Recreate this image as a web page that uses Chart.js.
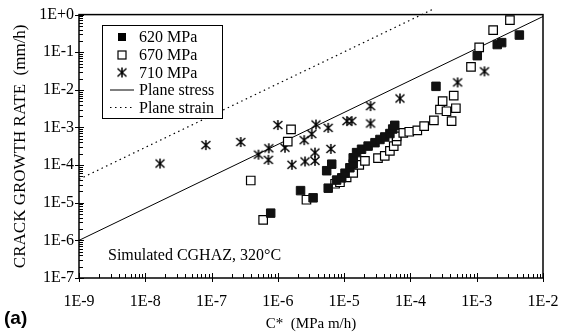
<!DOCTYPE html>
<html>
<head>
<meta charset="utf-8">
<script src="https://cdn.jsdelivr.net/npm/chart.js@4.4.0/dist/chart.umd.min.js"></script>
<style>
  html, body { margin: 0; padding: 0; background: #fff; }
</style>
</head>
<body>
<canvas id="crack-chart" width="575" height="336"></canvas>
<script>
// C* (MPa m/h) vs crack growth rate (mm/h)
var c620 = [7.8e-7, 2.2e-6, 3.4e-6, 5.75e-6, 5.45e-6, 6.5e-6, 7.7e-6, 9.2e-6, 1.03e-5, 1.22e-5, 1.37e-5, 1.37e-5,
            1.54e-5, 1.83e-5, 2.3e-5, 2.92e-5, 3.47e-5, 4.1e-5, 4.9e-5, 5.4e-5, 5.8e-5,
            2.43e-4, 1.02e-3, 2.04e-3, 2.38e-3, 4.4e-3];
var rate620 = [5.3e-6, 2.1e-5, 1.35e-5, 2.44e-5, 7.1e-5, 1.06e-4, 4.0e-5, 4.6e-5, 6.1e-5, 8.5e-5, 1.08e-4, 1.56e-4,
               2.15e-4, 2.64e-4, 3.2e-4, 3.95e-4, 4.8e-4, 5.6e-4, 6.9e-4, 9.1e-4, 1.14e-3,
               1.24e-2, 8.1e-2, 0.16, 0.18, 0.286];

var c670 = [6.0e-7, 2.7e-6, 3.9e-7, 1.41e-6, 1.58e-6, 7.3e-6, 8.65e-6, 1.09e-5, 1.37e-5, 1.69e-5, 2.06e-5, 3.24e-5,
            4.1e-5, 4.9e-5, 5.6e-5, 6.2e-5, 6.2e-5, 7.8e-5, 9.6e-5, 1.27e-4, 1.61e-4, 2.26e-4, 2.79e-4,
            3.06e-4, 3.5e-4, 4.18e-4, 4.5e-4, 4.85e-4, 8.2e-4, 1.09e-3, 1.77e-3, 3.17e-3];
var rate670 = [3.5e-6, 1.2e-5, 3.9e-5, 4.2e-4, 8.9e-4, 3.2e-5, 3.5e-5, 4.7e-5, 6.2e-5, 1.02e-4, 1.3e-4, 1.53e-4,
               1.76e-4, 2.4e-4, 3.2e-4, 4.4e-4, 5.8e-4, 7.2e-4, 7.7e-4, 8.4e-4, 1.09e-3, 1.54e-3, 3.0e-3,
               5.0e-3, 2.7e-3, 1.48e-3, 7.0e-3, 3.25e-3, 4.1e-2, 0.135, 0.387, 0.71];

var c710 = [1.67e-8, 8.2e-8, 2.75e-7, 1.0e-6, 5.1e-7, 7.3e-7, 7.2e-7, 1.28e-6, 1.63e-6, 2.57e-6, 3.63e-6, 3.63e-6,
            2.5e-6, 3.24e-6, 3.76e-6, 5.75e-6, 6.3e-6, 1.1e-5, 1.3e-5, 2.5e-5, 2.5e-5, 6.95e-5, 5.15e-4, 1.31e-3];
var rate710 = [1.1e-4, 3.4e-4, 4.1e-4, 1.16e-3, 1.9e-4, 2.8e-4, 1.38e-4, 2.9e-4, 1.02e-4, 1.25e-4, 2.15e-4, 1.3e-4,
               4.6e-4, 6.7e-4, 1.2e-3, 9.8e-4, 2.7e-4, 1.48e-3, 1.48e-3, 3.7e-3, 1.28e-3, 5.9e-3, 1.58e-2, 3.1e-2];

// reference lines
var stressC = [1e-9, 1e-2];
var stressRate = [1e-6, 0.89];
var strainC = [1e-9, 2.2e-4];
var strainRate = [4.2e-5, 1.4];

var xTicks = [1e-9, 1e-8, 1e-7, 1e-6, 1e-5, 1e-4, 1e-3, 1e-2];
var yTicks = [1e-7, 1e-6, 1e-5, 1e-4, 1e-3, 1e-2, 1e-1, 1];

var serif = '"Liberation Serif", "Times New Roman", serif';

function pts(xs, ys) {
    return xs.map(function (v, i) { return { x: v, y: ys[i] }; });
}

function fmtPow(v) {
    var e = Math.round(Math.log10(v));
    return '1E' + (e >= 0 ? '+' : '') + e;
}

// asterisk marker
function makeStar() {
    var c = document.createElement('canvas');
    c.width = 12; c.height = 12;
    var g = c.getContext('2d');
    g.strokeStyle = '#000';
    g.lineWidth = 1.5;
    g.beginPath();
    g.moveTo(6, 1); g.lineTo(6, 11);
    g.moveTo(1.5, 2); g.lineTo(10.5, 10);
    g.moveTo(10.5, 2); g.lineTo(1.5, 10);
    g.stroke();
    return c;
}
var star = makeStar();

var decor = {
    id: 'decor',
    afterDraw: function (chart) {
        var ctx = chart.ctx, a = chart.chartArea;
        var xs = chart.scales.x, ys = chart.scales.y;
        ctx.save();
        ctx.strokeStyle = '#000';
        ctx.lineWidth = 1.5;
        ctx.strokeRect(a.left, a.top, a.right - a.left, a.bottom - a.top);

        // axis ticks
        ctx.lineWidth = 1;
        ctx.beginPath();
        for (var e = -9; e <= -2; e++) {
            var px = Math.round(xs.getPixelForValue(Math.pow(10, e))) + 0.5;
            ctx.moveTo(px, a.bottom + 4); ctx.lineTo(px, a.bottom - 5);
            if (e < -2) {
                for (var m = 2; m <= 9; m++) {
                    var mx = Math.round(xs.getPixelForValue(m * Math.pow(10, e))) + 0.5;
                    ctx.moveTo(mx, a.bottom); ctx.lineTo(mx, a.bottom - 4);
                }
            }
        }
        for (var k = -7; k <= 0; k++) {
            var py = Math.round(ys.getPixelForValue(Math.pow(10, k))) + 0.5;
            ctx.moveTo(a.left - 4, py); ctx.lineTo(a.left + 5, py);
            if (k < 0) {
                for (var n = 2; n <= 9; n++) {
                    var my = Math.round(ys.getPixelForValue(n * Math.pow(10, k))) + 0.5;
                    ctx.moveTo(a.left, my); ctx.lineTo(a.left + 4, my);
                }
            }
        }
        ctx.stroke();

        // legend box
        var lx = 102, ly = 25, lw = 120, lh = 93;
        ctx.fillStyle = '#fff';
        ctx.fillRect(lx, ly, lw, lh);
        ctx.strokeRect(lx + 0.5, ly + 0.5, lw, lh);
        var rows = [37, 55, 72.5, 90, 107.5];
        var ds = chart.data.datasets;
        ctx.font = '16px ' + serif;
        ctx.textBaseline = 'middle';
        ctx.textAlign = 'left';
        for (var i = 0; i < 5; i++) {
            var y = rows[i], sx = 122;
            ctx.fillStyle = '#000';
            if (i === 0) {
                ctx.fillRect(sx - 4, y - 4, 8, 8);
            } else if (i === 1) {
                ctx.lineWidth = 1.2;
                ctx.strokeRect(sx - 4, y - 4, 8, 8);
            } else if (i === 2) {
                ctx.drawImage(star, sx - 6, y - 6);
            } else {
                ctx.lineWidth = 1;
                ctx.setLineDash(i === 4 ? [1.5, 3.5] : []);
                ctx.beginPath();
                ctx.moveTo(110, y); ctx.lineTo(134, y);
                ctx.stroke();
                ctx.setLineDash([]);
            }
            ctx.fillText(ds[i].label, 139, y + 1);
        }

        // annotation and panel letter
        ctx.fillText('Simulated CGHAZ, 320\u00B0C', 108, 256);
        ctx.font = 'bold 19px "Liberation Sans", Arial, sans-serif';
        ctx.fillText('(a)', 4, 319);
        ctx.restore();
    }
};

new Chart(document.getElementById('crack-chart'), {
    type: 'scatter',
    data: {
        datasets: [
            {
                label: '620 MPa',
                data: pts(c620, rate620),
                pointStyle: 'rect',
                pointRadius: 6,
                backgroundColor: '#111',
                borderColor: '#111',
                borderWidth: 1
            },
            {
                label: '670 MPa',
                data: pts(c670, rate670),
                pointStyle: 'rect',
                pointRadius: 6,
                backgroundColor: '#fff',
                borderColor: '#000',
                borderWidth: 1.2
            },
            {
                label: '710 MPa',
                data: pts(c710, rate710),
                pointStyle: star,
                pointRadius: 6
            },
            {
                label: 'Plane stress',
                data: pts(stressC, stressRate),
                showLine: true,
                pointRadius: 0,
                borderColor: '#000',
                borderWidth: 1
            },
            {
                label: 'Plane strain',
                data: pts(strainC, strainRate),
                showLine: true,
                pointRadius: 0,
                borderColor: '#000',
                borderWidth: 1.2,
                borderDash: [1.5, 3.5],
                clip: false
            }
        ]
    },
    options: {
        responsive: false,
        animation: false,
        layout: { padding: { top: 13, right: 32, left: 0, bottom: 0 } },
        plugins: {
            legend: { display: false },
            tooltip: { enabled: false }
        },
        scales: {
            x: {
                type: 'logarithmic',
                min: 1e-9,
                max: 1e-2,
                afterBuildTicks: function (s) { s.ticks = xTicks.map(function (v) { return { value: v }; }); },
                afterFit: function (s) { s.height = 58; },
                grid: { display: false, drawTicks: false },
                border: { display: false },
                ticks: {
                    callback: fmtPow,
                    color: '#000',
                    font: { family: serif, size: 16 },
                    padding: 14,
                    maxRotation: 0,
                    autoSkip: false
                },
                title: {
                    display: true,
                    text: 'C*  (MPa m/h)',
                    color: '#000',
                    font: { family: serif, size: 15 },
                    padding: { top: 0, bottom: 3 }
                }
            },
            y: {
                type: 'logarithmic',
                min: 1e-7,
                max: 1,
                afterBuildTicks: function (s) { s.ticks = yTicks.map(function (v) { return { value: v }; }); },
                afterFit: function (s) { s.width = 79; },
                grid: { display: false, drawTicks: false },
                border: { display: false },
                ticks: {
                    callback: fmtPow,
                    color: '#000',
                    font: { family: serif, size: 16 },
                    padding: 5,
                    autoSkip: false
                },
                title: {
                    display: true,
                    text: 'CRACK GROWTH RATE  (mm/h)',
                    color: '#000',
                    font: { family: serif, size: 17 },
                    padding: { top: 10, bottom: 0 }
                }
            }
        }
    },
    plugins: [decor]
});
</script>
</body>
</html>
